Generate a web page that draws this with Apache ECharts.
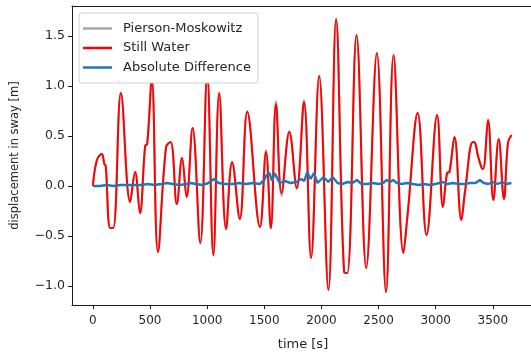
<!DOCTYPE html>
<html>
<head>
<meta charset="utf-8">
<script src="https://cdn.jsdelivr.net/npm/echarts@6/dist/echarts.min.js"></script>
<style>
  html, body { margin: 0; padding: 0; background: #fff; }
  #chart { width: 531px; height: 356px; }
</style>
</head>
<body>
<div id="chart"></div>
<script>
// Sway response: sample times [s] at turning points of the motion
const swayTimes = [0, 35, 78, 100, 112, 151, 178, 245, 326, 369, 412, 457, 475, 515, 569, 640, 680, 734,
  780, 820, 872, 940, 1000, 1054, 1105, 1165, 1218, 1285, 1351, 1462, 1515, 1557, 1602, 1651, 1719, 1784,
  1847, 1909, 1980, 2061, 2128, 2198, 2226, 2307, 2392, 2485, 2565, 2631, 2717, 2755, 2842, 2920, 3012,
  3063, 3099, 3120, 3164, 3224, 3257, 3325, 3345, 3368, 3402, 3415, 3458, 3504, 3551, 3597, 3632, 3663];

// Displacement in sway [m], still water case
const stillWater = [0.00, 0.26, 0.32, 0.22, 0.20, -0.42, -0.42, 0.93, -0.16, 0.14, -0.27, 0.40, 0.42, 1.07,
  -0.66, 0.39, 0.44, -0.18, 0.28, -0.11, 0.58, -0.57, 1.12, -0.69, 0.93, -0.43, 0.24, -0.33, 0.74, -0.41,
  0.34, -0.42, 0.82, -0.07, 0.54, -0.02, 0.84, -0.72, 1.10, -1.04, 1.67, -0.86, -0.87, 1.51, -0.82, 1.33,
  -1.06, 1.31, -0.67, -0.27, 0.73, -0.49, 0.71, -0.21, 0.13, 0.14, 0.49, -0.34, -0.05, 0.44, 0.43, 0.31,
  0.18, 0.17, 0.66, -0.14, 0.47, -0.13, 0.43, 0.51];

// Displacement in sway [m], Pierson-Moskowitz sea state
const piersonMoskowitz = [0.00, 0.26, 0.32, 0.22, 0.20, -0.42, -0.42, 0.93, -0.16, 0.14, -0.27, 0.40, 0.42,
  1.07, -0.66, 0.39, 0.44, -0.18, 0.28, -0.11, 0.58, -0.57, 1.12, -0.70, 0.93, -0.43, 0.24, -0.33, 0.75,
  -0.41, 0.36, -0.43, 0.85, -0.10, 0.55, -0.03, 0.86, -0.72, 1.10, -1.04, 1.67, -0.86, -0.87, 1.51, -0.82,
  1.33, -1.06, 1.31, -0.67, -0.27, 0.73, -0.49, 0.71, -0.21, 0.13, 0.14, 0.49, -0.34, -0.05, 0.44, 0.43,
  0.31, 0.18, 0.17, 0.66, -0.14, 0.47, -0.13, 0.43, 0.51];

// Absolute difference between the two responses
const diffTimes = [0, 60, 120, 180, 240, 300, 360, 420, 480, 540, 600, 650, 700, 760, 820, 860, 900, 960,
  1010, 1060, 1100, 1160, 1220, 1280, 1340, 1400, 1460, 1500, 1520, 1546, 1568, 1590, 1634, 1680, 1730,
  1780, 1824, 1850, 1875, 1905, 1934, 1965, 2019, 2060, 2098, 2140, 2180, 2230, 2270, 2310, 2350, 2400,
  2450, 2500, 2540, 2569, 2600, 2627, 2660, 2700, 2750, 2800, 2850, 2900, 2950, 3000, 3063, 3100, 3150,
  3200, 3250, 3300, 3350, 3385, 3420, 3460, 3500, 3540, 3580, 3620, 3663];
const diffValues = [0.00, 0.00, 0.01, 0.00, 0.01, 0.01, 0.01, 0.01, 0.02, 0.01, 0.02, 0.03, 0.02, 0.01,
  0.02, 0.03, 0.02, 0.01, 0.03, 0.07, 0.03, 0.02, 0.02, 0.03, 0.02, 0.03, 0.02, 0.06, 0.11, 0.13, 0.05,
  0.13, 0.03, 0.05, 0.03, 0.04, 0.07, 0.05, 0.14, 0.07, 0.13, 0.03, 0.09, 0.04, 0.09, 0.03, 0.02, 0.04,
  0.03, 0.06, 0.02, 0.02, 0.03, 0.02, 0.03, 0.06, 0.04, 0.06, 0.03, 0.02, 0.03, 0.02, 0.01, 0.02, 0.01,
  0.02, 0.04, 0.02, 0.03, 0.02, 0.02, 0.03, 0.03, 0.06, 0.03, 0.02, 0.04, 0.02, 0.04, 0.02, 0.03];

// Axis ticks
const xTicks = [0, 500, 1000, 1500, 2000, 2500, 3000, 3500];
const yTicks = [-1.0, -0.5, 0.0, 0.5, 1.0, 1.5];

const pairs = (xs, ys) => xs.map((x, i) => [x, ys[i]]);
const font = 'DejaVu Sans';
const textColor = '#262626';
const axisColor = '#1a1a1a';
const xMin = -183, xMax = 3860;

const chart = echarts.init(document.getElementById('chart'), null, { renderer: 'canvas' });
chart.setOption({
  animation: false,
  backgroundColor: '#fff',
  textStyle: { fontFamily: font },
  grid: {
    left: 72, top: 6, width: 462, height: 299,
    outerBoundsMode: 'none',
    containLabel: false,
    show: false
  },
  legend: {
    orient: 'vertical',
    left: 79, top: 13,
    padding: [9, 7, 9, 4],
    itemGap: 6.5,
    itemWidth: 29, itemHeight: 2.5,
    icon: 'rect',
    backgroundColor: '#fff',
    borderColor: '#d0d0d0', borderWidth: 1, borderRadius: 3,
    textStyle: { fontFamily: font, fontSize: 13, color: textColor, padding: [0, 0, 0, 6] },
    data: ['Pierson-Moskowitz', 'Still Water', 'Absolute Difference']
  },
  xAxis: [
    {
      type: 'value',
      position: 'bottom',
      min: xMin, max: xMax,
      name: 'time [s]',
      nameLocation: 'middle',
      nameGap: 33,
      nameTextStyle: { fontFamily: font, fontSize: 13, color: textColor },
      axisLine: { show: true, onZero: false, lineStyle: { color: axisColor, width: 1 } },
      axisTick: { show: true, inside: false, length: 4, customValues: xTicks, lineStyle: { color: axisColor } },
      axisLabel: {
        customValues: xTicks, margin: 10, fontFamily: font, fontSize: 12, color: textColor,
        formatter: v => String(v)
      },
      splitLine: { show: false }
    },
    {
      // top frame line
      type: 'value',
      position: 'top',
      min: xMin, max: xMax,
      axisLine: { show: true, onZero: false, lineStyle: { color: axisColor, width: 1 } },
      axisTick: { show: false },
      axisLabel: { show: false },
      splitLine: { show: false }
    }
  ],
  yAxis: {
    type: 'value',
    min: -1.19, max: 1.80,
    name: 'displacement in sway [m]',
    nameLocation: 'middle',
    nameRotate: 90,
    nameGap: 51,
    nameTextStyle: { fontFamily: font, fontSize: 11.5, color: textColor },
    axisLine: { show: true, onZero: false, lineStyle: { color: axisColor, width: 1 } },
    axisTick: { show: true, inside: false, length: 4, customValues: yTicks, lineStyle: { color: axisColor } },
    axisLabel: {
      customValues: yTicks, margin: 7, fontFamily: font, fontSize: 12.5, color: textColor,
      formatter: v => (v < 0 ? '\u2212' : '') + Math.abs(v).toFixed(1)
    },
    splitLine: { show: false }
  },
  series: [
    {
      name: 'Pierson-Moskowitz', type: 'line', symbol: 'none', smooth: 0.4,
      color: '#a9a9a9', lineStyle: { width: 2, color: '#a9a9a9' },
      data: pairs(swayTimes, piersonMoskowitz), z: 1
    },
    {
      name: 'Still Water', type: 'line', symbol: 'none', smooth: 0.4,
      color: '#ff0000', lineStyle: { width: 2, color: '#ff0000' },
      data: pairs(swayTimes, stillWater), z: 2
    },
    {
      name: 'Absolute Difference', type: 'line', symbol: 'none',
      color: '#1f77b4', lineStyle: { width: 2.4, color: '#1f77b4' },
      data: pairs(diffTimes, diffValues), z: 3
    }
  ]
});
</script>
</body>
</html>
